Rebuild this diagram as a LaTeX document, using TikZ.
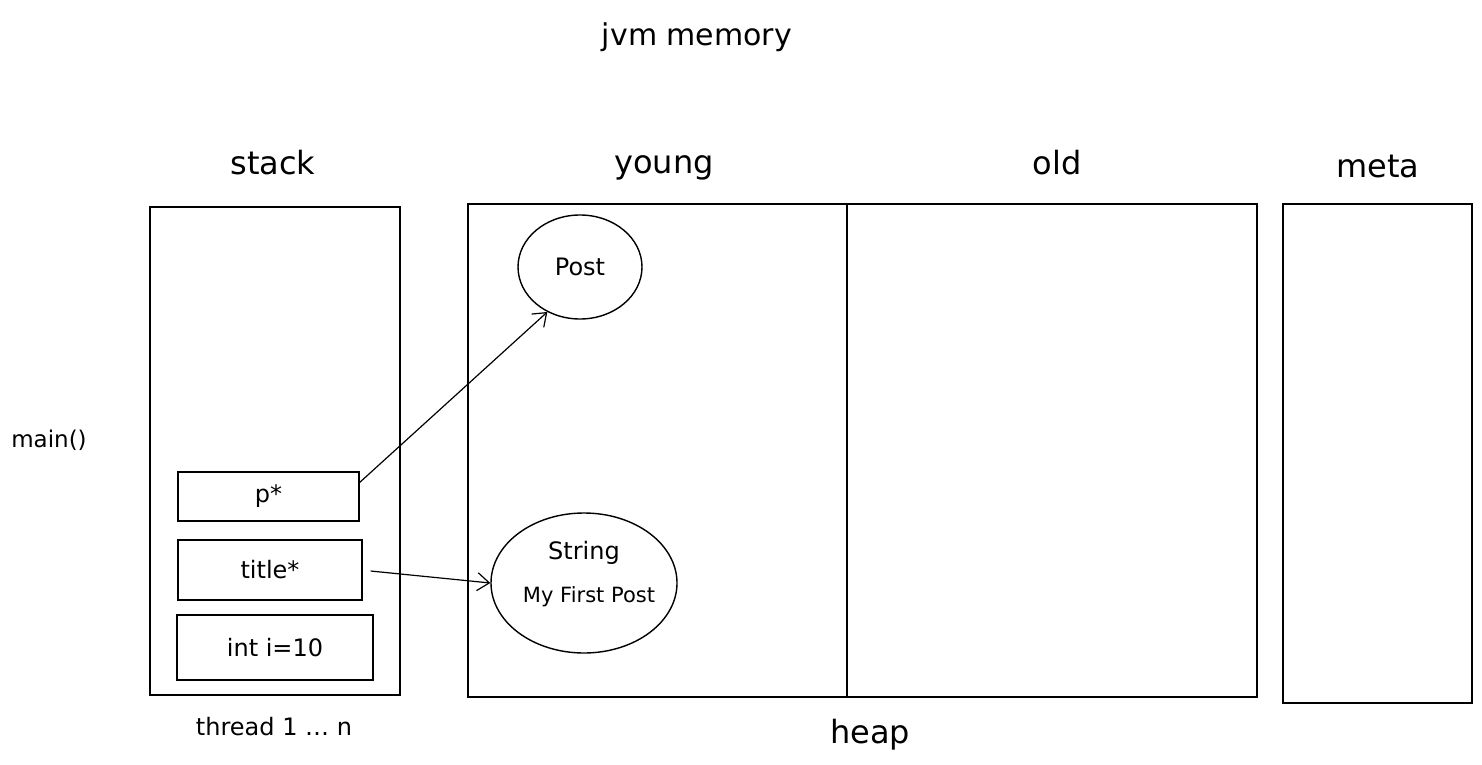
\documentclass[tikz,border=0pt]{standalone}
\usepackage{fontspec}
\setmainfont{DejaVu Sans}
\usetikzlibrary{arrows.meta,shapes.geometric}
\begin{document}
\begin{tikzpicture}[x=1pt,y=-1pt,
  box/.style={draw,line width=1.2pt,minimum width=0pt},
  ttl/.style={font=\fontsize{30}{34}\selectfont},
  head/.style={font=\fontsize{32}{36}\selectfont},
  lbl/.style={font=\fontsize{24}{28}\selectfont},
  small/.style={font=\fontsize{21}{24}\selectfont},
  obj/.style={draw,ellipse,line width=1.4pt,inner sep=0pt},
  ref/.style={line width=1.2pt,-{Straight Barb[length=12pt,width=18pt]}}]
\useasboundingbox (0,0) rectangle (1482,765);
% titles
\node[ttl] (title) at (697,37) {jvm memory};
\node[head] (hstack) at (273,163) {stack};
\node[head] (hyoung) at (664,168) {young};
\node[head] (hold) at (1057,163) {old};
\node[head] (hmeta) at (1378,166) {meta};
\node[font=\fontsize{23}{26}\selectfont] (main) at (49,440) {main()};
% stack
\draw[line width=1.2pt] (150,207) rectangle (400,695);
\node[lbl] (thread) at (274,727) {thread 1 \dots{} n};
\node[box,minimum width=181pt,minimum height=49pt] (p) at (268.5,496.5) {};
\node[lbl] at (p) {p*};
\node[box,minimum width=184pt,minimum height=60pt] (t) at (270,570) {};
\node[lbl] at (t) {title*};
\node[box,minimum width=196pt,minimum height=65pt] (i) at (275,647.5) {};
\node[lbl] at (i) {int i=10};
% heap
\draw[line width=1.2pt] (468,204) rectangle (1257,697);
\draw[line width=1.2pt] (847,204) -- (847,697);
\node[head] (heap) at (870,735) {heap};
% meta
\draw[line width=1.2pt] (1283,204) rectangle (1472,703);
% objects
\node[obj,minimum width=124pt,minimum height=104pt] (post) at (580,267) {};
\node[lbl] at (post) {Post};
\node[obj,minimum width=186pt,minimum height=140pt] (str) at (584,583) {};
\node[lbl] at (584,553) {String};
\node[small] at (589,597) {My First Post};
% references
\draw[ref] (p.east) ++(0,-14) coordinate (pa) -- (post.-126);
\draw[ref] (t.east) ++(8,1) coordinate (ta) -- (str.west);
\end{tikzpicture}
\end{document}
